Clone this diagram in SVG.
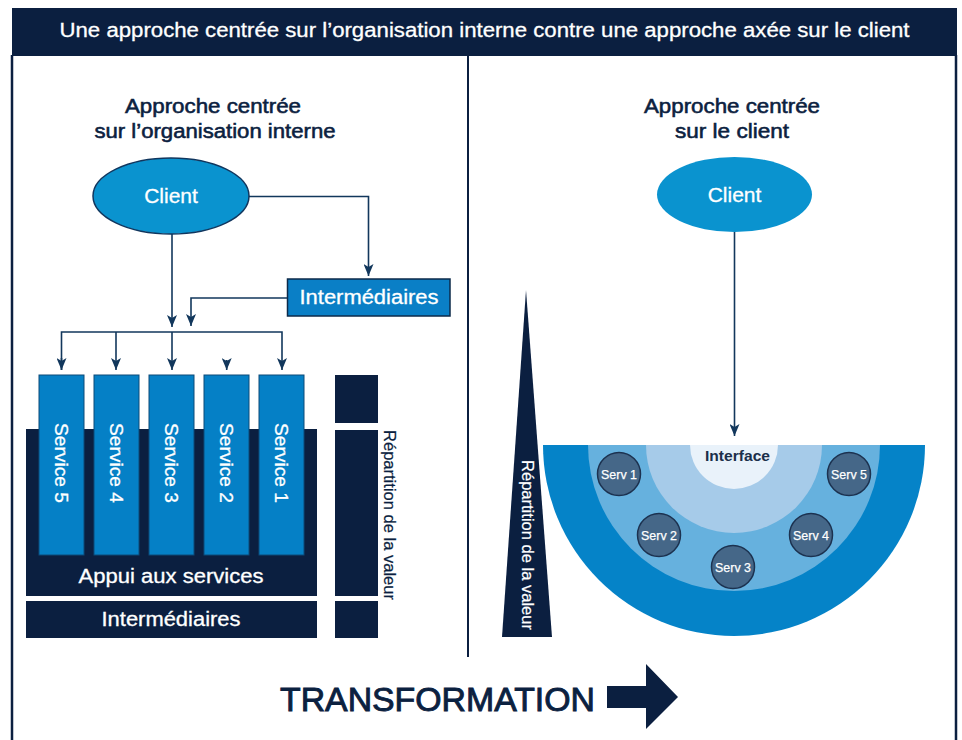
<svg xmlns="http://www.w3.org/2000/svg" width="962" height="740" viewBox="0 0 962 740">
<style>
  text { font-family: "Liberation Sans", Arial, sans-serif; }
  .navy { fill: #0b1f40; }
  .title { fill: #0b2140; stroke: #0b2140; stroke-width: 0.55; font-size: 20px; text-anchor: middle; }
  .wt { fill: #ffffff; stroke: #ffffff; stroke-width: 0.3; text-anchor: middle; }
  .conn { fill: none; stroke: #12375c; stroke-width: 1.6; }
  .frame { stroke: #0b1f40; stroke-width: 2.5; fill: none; }
  .svc { fill: #0580c6; stroke: #0d4a78; stroke-width: 1; }
  .serv { fill: #456788; stroke: #1c3250; stroke-width: 1.5; }
  .servt { fill: #ffffff; stroke: #ffffff; stroke-width: 0.25; font-size: 13.5px; text-anchor: middle; }
</style>
<defs>
  <marker id="ah" viewBox="0 0 12 10" refX="12" refY="5" markerWidth="12" markerHeight="10" markerUnits="userSpaceOnUse" orient="auto">
    <path d="M0,0 L12,5 L0,10 L3,5 Z" fill="#12375c"/>
  </marker>
</defs>
<rect width="962" height="740" fill="#ffffff"/>

<g id="frame">
  <rect x="12" y="8" width="945" height="48" class="navy"/>
  <text x="484.5" y="37" class="wt" font-size="20" textLength="850" lengthAdjust="spacingAndGlyphs">Une approche centrée sur l’organisation interne contre une approche axée sur le client</text>
  <line x1="12" y1="55" x2="12" y2="740" class="frame"/>
  <line x1="956" y1="55" x2="956" y2="740" class="frame"/>
  <line x1="468" y1="55" x2="468" y2="657" stroke="#0b1f40" stroke-width="2"/>
</g>

<g id="left-title">
  <text x="213" y="113" class="title" textLength="176" lengthAdjust="spacingAndGlyphs">Approche centrée</text>
  <text x="215" y="138" class="title" textLength="241" lengthAdjust="spacingAndGlyphs">sur l’organisation interne</text>
</g>
<g id="right-title">
  <text x="732" y="113" class="title" textLength="176" lengthAdjust="spacingAndGlyphs">Approche centrée</text>
  <text x="732" y="138" class="title" textLength="114" lengthAdjust="spacingAndGlyphs">sur le client</text>
</g>

<g id="connectors">
  <path class="conn" d="M249,196.5 H368.5 V276" marker-end="url(#ah)"/>
  <path class="conn" d="M172,234 V327" marker-end="url(#ah)"/>
  <path class="conn" d="M288,298 H191 V326" marker-end="url(#ah)"/>
  <path class="conn" d="M61.5,370 V332 H282 V370" marker-end="url(#ah)"/>
  <path class="conn" d="M116,332 V370" marker-end="url(#ah)"/>
  <path class="conn" d="M172,332 V370" marker-end="url(#ah)"/>
  <path class="conn" d="M226.7,360 V370" marker-end="url(#ah)"/>
  <path class="conn" d="M734.5,232 V436" marker-end="url(#ah)"/>
  <path class="conn" d="M61.5,358 V370" marker-end="url(#ah)"/>
</g>

<g id="client-left">
  <ellipse cx="171" cy="196" rx="78" ry="38" fill="#0a93cf" stroke="#10365e" stroke-width="1.5"/>
  <text x="171" y="203" class="wt" font-size="21">Client</text>
</g>

<g id="intermediaires-top">
  <rect x="287.5" y="279" width="162.5" height="37" fill="#0a7fc6" stroke="#0c2a4a" stroke-width="1.5"/>
  <text x="369" y="304" class="wt" font-size="20" textLength="139" lengthAdjust="spacingAndGlyphs">Intermédiaires</text>
</g>

<g id="appui">
  <rect x="26" y="429" width="291" height="167" class="navy"/>
  <text x="171" y="583" class="wt" font-size="20" textLength="185" lengthAdjust="spacingAndGlyphs">Appui aux services</text>
</g>

<g id="service5">
  <rect x="39" y="375" width="45" height="180" class="svc"/>
  <text x="55" y="463" class="wt" font-size="18" transform="rotate(90 55 463)" textLength="80" lengthAdjust="spacingAndGlyphs">Service 5</text>
</g>
<g id="service4">
  <rect x="94" y="375" width="45" height="180" class="svc"/>
  <text x="110" y="463" class="wt" font-size="18" transform="rotate(90 110 463)" textLength="80" lengthAdjust="spacingAndGlyphs">Service 4</text>
</g>
<g id="service3">
  <rect x="149" y="375" width="45" height="180" class="svc"/>
  <text x="165" y="463" class="wt" font-size="18" transform="rotate(90 165 463)" textLength="80" lengthAdjust="spacingAndGlyphs">Service 3</text>
</g>
<g id="service2">
  <rect x="204" y="375" width="45" height="180" class="svc"/>
  <text x="220" y="463" class="wt" font-size="18" transform="rotate(90 220 463)" textLength="80" lengthAdjust="spacingAndGlyphs">Service 2</text>
</g>
<g id="service1">
  <rect x="259" y="375" width="45" height="180" class="svc"/>
  <text x="275" y="463" class="wt" font-size="18" transform="rotate(90 275 463)" textLength="80" lengthAdjust="spacingAndGlyphs">Service 1</text>
</g>

<g id="intermediaires-bottom">
  <rect x="26" y="601" width="291" height="37" class="navy"/>
  <text x="171" y="626" class="wt" font-size="20" textLength="139" lengthAdjust="spacingAndGlyphs">Intermédiaires</text>
</g>

<g id="value-bar-left">
  <rect x="335" y="375" width="43" height="48" class="navy"/>
  <rect x="335" y="430" width="43" height="166" class="navy"/>
  <rect x="335" y="601" width="43" height="37" class="navy"/>
  <text x="384" y="515" font-size="16" fill="#0b1f40" stroke="#0b1f40" stroke-width="0.2" text-anchor="middle" transform="rotate(90 384 515)" textLength="170" lengthAdjust="spacingAndGlyphs">Répartition de la valeur</text>
</g>

<g id="client-right">
  <ellipse cx="734.5" cy="194.5" rx="77.5" ry="37.5" fill="#0a93cf"/>
  <text x="734.5" y="202" class="wt" font-size="21">Client</text>
</g>

<g id="value-triangle">
  <polygon points="526,290 552,637 502,637" class="navy"/>
  <text x="522" y="545" font-size="16" fill="#ffffff" stroke="#ffffff" stroke-width="0.2" text-anchor="middle" transform="rotate(90 522 545)" textLength="170" lengthAdjust="spacingAndGlyphs">Répartition de la valeur</text>
</g>

<g id="semicircle">
  <path d="M543,445 A191,191 0 0 0 925,445 Z" fill="#0583c8"/>
  <path d="M588,445 A146,146 0 0 0 880,445 Z" fill="#66b1de"/>
  <path d="M646,445 A88,88 0 0 0 822,445 Z" fill="#a6cbe9"/>
  <path d="M690,445 A44,44 0 0 0 778,445 Z" fill="#e9f2fa"/>
</g>
<g id="interface">
  <text x="737.5" y="461" font-size="15.5" font-weight="bold" fill="#1b2f4a" text-anchor="middle" textLength="65" lengthAdjust="spacingAndGlyphs">Interface</text>
</g>
<g id="serv1"><circle cx="619" cy="474" r="21.5" class="serv"/><text x="619" y="479" class="servt" textLength="36" lengthAdjust="spacingAndGlyphs">Serv 1</text></g>
<g id="serv2"><circle cx="659" cy="535" r="21.5" class="serv"/><text x="659" y="540" class="servt" textLength="36" lengthAdjust="spacingAndGlyphs">Serv 2</text></g>
<g id="serv3"><circle cx="733" cy="567" r="21.5" class="serv"/><text x="733" y="572" class="servt" textLength="36" lengthAdjust="spacingAndGlyphs">Serv 3</text></g>
<g id="serv4"><circle cx="811" cy="535" r="21.5" class="serv"/><text x="811" y="540" class="servt" textLength="36" lengthAdjust="spacingAndGlyphs">Serv 4</text></g>
<g id="serv5"><circle cx="849" cy="474" r="21.5" class="serv"/><text x="849" y="479" class="servt" textLength="36" lengthAdjust="spacingAndGlyphs">Serv 5</text></g>

<g id="transformation">
  <text x="280" y="711" font-size="33" fill="#0b2140" stroke="#0b2140" stroke-width="0.9" textLength="315" lengthAdjust="spacingAndGlyphs">TRANSFORMATION</text>
  <polygon points="607,686 646,686 646,664 678,697 646,729 646,708 607,708" class="navy"/>
</g>
</svg>
